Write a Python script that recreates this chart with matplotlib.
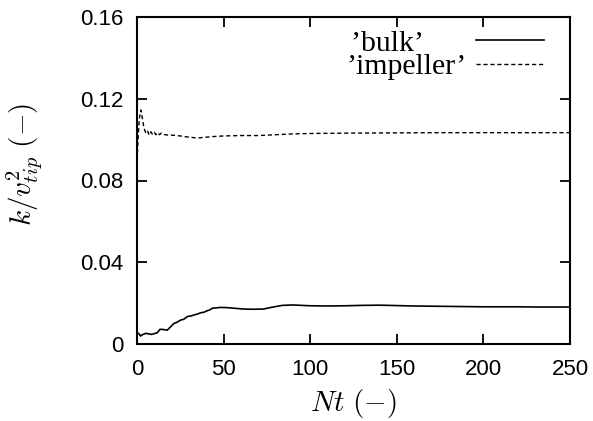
import matplotlib
matplotlib.use('Agg')
import matplotlib.pyplot as plt

# time axis, N*t
nt_bulk = [0, 1, 2, 3, 5, 8.4, 11.7, 13.3, 15, 17.5, 19.5, 21.4, 23, 25.2, 27, 29, 31,
           32.9, 35, 36.8, 38.5, 40.6, 42, 43.5, 46, 48.3, 52, 56, 61.8, 67, 73, 78, 84,
           90, 95, 100, 110, 120, 130, 140, 150, 160, 170, 180, 190, 200, 210, 220, 230,
           240, 250]
k_bulk = [0.0050, 0.0052, 0.0039, 0.0045, 0.0052, 0.0047, 0.0055, 0.0072, 0.0071, 0.0068,
          0.0085, 0.0101, 0.0106, 0.0117, 0.0121, 0.0134, 0.0137, 0.0142, 0.0147, 0.0153,
          0.0155, 0.0163, 0.0167, 0.0175, 0.0177, 0.0179, 0.0178, 0.0175, 0.0171, 0.0170,
          0.0171, 0.0180, 0.0189, 0.0191, 0.0189, 0.0187, 0.0186, 0.0187, 0.0189, 0.0190,
          0.0188, 0.0186, 0.0185, 0.0184, 0.0183, 0.0182, 0.0182, 0.0182, 0.0181, 0.0181,
          0.0181]

nt_imp = [0, 0.5, 1, 1.5, 2.3, 3, 4, 5, 6, 7, 8, 9, 10, 11, 12, 13, 14, 15.6, 18, 20,
          25, 30, 35, 40, 44, 50, 60, 70, 80, 90, 100, 125, 150, 175, 200, 225, 250]
k_imp = [0.090, 0.098, 0.106, 0.111, 0.1145, 0.111, 0.1057, 0.1035, 0.1045, 0.1023, 0.1038,
         0.1025, 0.1036, 0.1024, 0.1034, 0.1024, 0.1032, 0.1025, 0.1022, 0.1022, 0.1018,
         0.1012, 0.1008, 0.1012, 0.1015, 0.1018, 0.1020, 0.1020, 0.1024, 0.1028, 0.1030,
         0.1032, 0.1033, 0.1034, 0.1034, 0.1034, 0.1034]

plt.rcParams['mathtext.fontset'] = 'cm'

fig = plt.figure(figsize=(5.93, 4.21), dpi=100)
ax = fig.add_axes([137/593, 1 - 344/421, 433/593, 327/421])

# trailing spaces keep both labels about the same width (gnuplot style key)
ax.plot(nt_bulk, k_bulk, color='black', lw=1.2, label="\u2019bulk\u2019      ")
ax.plot(nt_imp, k_imp, color='black', lw=1.0, ls=(0, (3, 2)), label="\u2019impeller\u2019")

ax.set_xlim(0, 250)
ax.set_ylim(0, 0.16)
ax.set_xticks([0, 50, 100, 150, 200, 250])
ax.set_yticks([0, 0.04, 0.08, 0.12, 0.16])
ax.set_yticklabels(['0', '0.04', '0.08', '0.12', '0.16'])

for sp in ax.spines.values():
    sp.set_linewidth(1.5)
ax.tick_params(direction='in', length=7, width=1.3, top=True, right=True,
               labelsize=16)
ax.tick_params(axis='y', pad=10)
ax.tick_params(axis='x', pad=11)
for lab in ax.get_xticklabels() + ax.get_yticklabels():
    lab.set_fontfamily('Liberation Sans')

ax.set_xlabel(r'$Nt\ (-)$', fontsize=21, labelpad=5)
ax.set_ylabel(r'$k/v_{tip}^{2}\ (-)$', fontsize=21)
ax.yaxis.set_label_coords(-0.212, 0.55)

leg = ax.legend(loc='upper right', bbox_to_anchor=(0.975, 1.006), frameon=False,
                markerfirst=False, handlelength=2.3, handletextpad=0.3,
                labelspacing=-0.12, borderpad=0,
                prop={'family': 'Liberation Serif', 'size': 21.5})

fig.savefig('out.png', dpi=100)
